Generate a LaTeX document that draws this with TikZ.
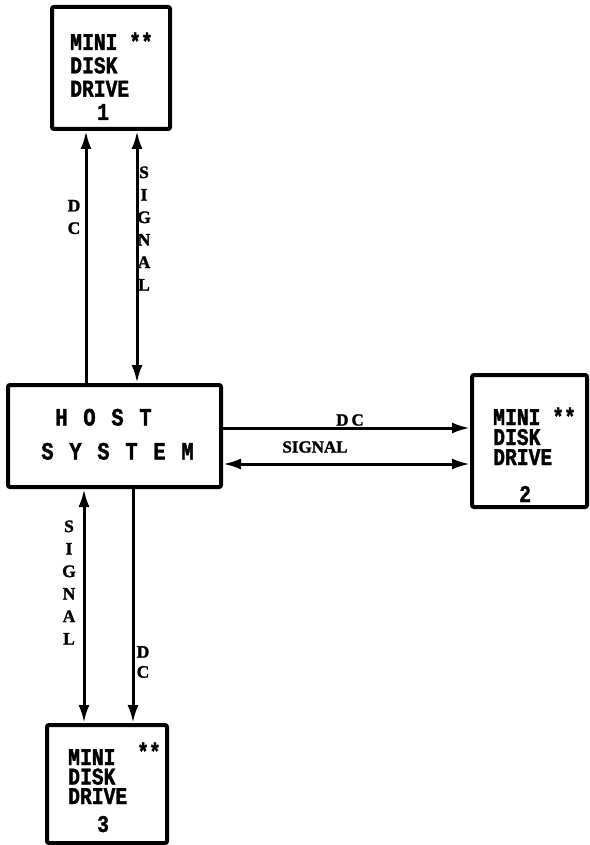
\documentclass[tikz,border=0pt]{standalone}
\usepackage{fontspec}
\setmainfont{Liberation Serif}[BoldFeatures={FakeBold=1.5}]
\newfontfamily\boxfont[FakeStretch=0.82,BoldFeatures={FakeBold=1.5}]{Liberation Mono}
\usetikzlibrary{arrows.meta}
\begin{document}
\begin{tikzpicture}[x=1pt,y=-1pt,
  box/.style={draw,line width=4pt,rounded corners=2pt,inner sep=0pt},
  lbl/.style={inner sep=0pt,anchor=base west},
  hostlbl/.style={font=\boxfont\bfseries\fontsize{25}{25}\selectfont,inner sep=0pt,anchor=base},
  vlab/.style={font=\bfseries\fontsize{17.5}{22.5}\selectfont,align=center,inner sep=0pt},
  hlab/.style={font=\bfseries\fontsize{17}{17}\selectfont,inner sep=0pt},
  cn/.style={line width=3pt},
  Tp/.tip={Latex[length=18pt,width=11pt]}
]
\useasboundingbox (0,0) rectangle (589,845);

% boxes
\node[box,minimum width=118pt,minimum height=122pt] (d1) at (111,68) {};
\node[box,minimum width=213pt,minimum height=102pt] (host) at (114.5,436) {};
\node[box,minimum width=115pt,minimum height=132pt] (d2) at (529.5,441) {};
\node[box,minimum width=120pt,minimum height=118pt] (d3) at (107,784) {};

% box texts
\node[lbl] (d1t) at (70,50) {\parbox[t]{86pt}{\boxfont\bfseries\fontsize{24}{23.3}\selectfont
  MINI **\\DISK\\DRIVE\\\hspace*{27pt}1}};

\node[lbl] (d2t) at (493,425) {\parbox[t]{86pt}{\boxfont\bfseries\fontsize{24}{20}\selectfont
  MINI **\\DISK\\DRIVE\\[17pt]\hspace*{26pt}2}};

\node[lbl] (d3s) at (137,760) {\boxfont\bfseries\fontsize{24}{20}\selectfont **};
\node[lbl] (d3t) at (68,765) {\parbox[t]{62pt}{\boxfont\bfseries\fontsize{24}{19.5}\selectfont
  MINI\\DISK\\DRIVE\\[8.5pt]\hspace*{29pt}3}};

\node[hostlbl] (hostA) at (103.5,425.5) {\makebox[28pt]{H}\makebox[28pt]{O}\makebox[28pt]{S}\makebox[28pt]{T}};
\node[hostlbl] (hostB) at (117.5,459.5) {\makebox[28pt]{S}\makebox[28pt]{Y}\makebox[28pt]{S}\makebox[28pt]{T}\makebox[28pt]{E}\makebox[28pt]{M}};

% connector positions
\coordinate (c1) at (86,0);
\coordinate (c2) at (137,0);
\coordinate (c3) at (0,428);
\coordinate (c4) at (0,464);
\coordinate (c5) at (84,0);
\coordinate (c6) at (133,0);

\draw[cn,-Tp] (c1 |- host.north) -- (c1 |- d1.south);
\draw[cn,Tp-Tp] (c2 |- host.north) -- (c2 |- d1.south);
\draw[cn,-Tp] (host.east |- c3) -- (d2.west |- c3);
\draw[cn,Tp-Tp] (host.east |- c4) -- (d2.west |- c4);
\draw[cn,Tp-Tp] (c5 |- host.south) -- (c5 |- d3.north);
\draw[cn,-Tp] (c6 |- host.south) -- (c6 |- d3.north);

% connector labels
\node[vlab] (l1) at (74,217) {D\\C};
\node[vlab] (l2) at (144,228.5) {S\\I\\G\\N\\A\\L};
\node[hlab] (l3) at (350,420) {D\kern3pt C};
\node[hlab] (l4) at (315,447) {SIGNAL};
\node[vlab] (l5) at (69,582.5) {S\\I\\G\\N\\A\\L};
\node[vlab,font=\bfseries\fontsize{17.5}{20}\selectfont] (l6) at (143,662) {D\\C};
\end{tikzpicture}
\end{document}
